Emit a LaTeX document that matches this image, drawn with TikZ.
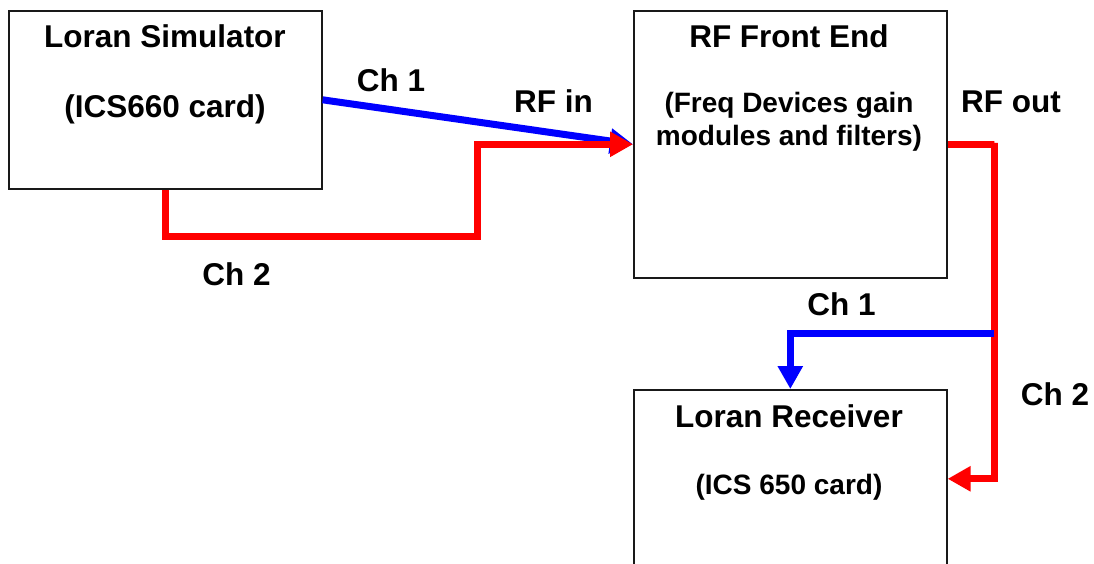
\documentclass[tikz,border=0pt]{standalone}
\usepackage{fontspec}
\setmainfont{Liberation Sans}
\usetikzlibrary{arrows.meta}
\begin{document}
\begin{tikzpicture}[x=1pt,y=-1pt,
  box/.style={draw=black!90,line width=1.6pt,fill=white,inner sep=0pt,anchor=north west},
  big/.style={font=\fontsize{31.5}{38}\selectfont\bfseries,anchor=base,inner sep=0pt},
  small/.style={font=\fontsize{28}{33}\selectfont\bfseries,anchor=base,inner sep=0pt},
  wire/.style={line width=7pt,-{Triangle[length=23pt,width=24pt]}},
  bluewire/.style={wire,color={rgb,255:red,0;green,0;blue,255}},
  redwire/.style={wire,color={rgb,255:red,255;green,0;blue,0}}]
\useasboundingbox (0,0) rectangle (1094,564);
\clip (0,0) rectangle (1094,564);
\fill[white] (0,0) rectangle (1094,564);
% boxes
\node[box,minimum width=313pt,minimum height=178pt] (sim) at (8,10) {};
\node[box,minimum width=313pt,minimum height=267pt] (fe) at (633,10) {};
\node[box,minimum width=313pt,minimum height=178pt] (rx) at (633,389) {};
% texts
\node[big] (t1) at (165,48) {Loran Simulator};
\node[big] (t2) at (165,118) {(ICS660 card)};
\node[big] (t3) at (789,48) {RF Front End};
\node[small] (t4) at (789,113) {(Freq Devices gain};
\node[small] (t5) at (789,146) {modules and filters)};
\node[big] (t6) at (789,427) {Loran Receiver};
\node[small] (t7) at (789,494) {(ICS 650 card)};
\node[big] (l1) at (391,92) {Ch 1};
\node[big] (l2) at (236.5,285) {Ch 2};
\node[big] (l3) at (553.5,113) {RF in};
\node[big] (l4) at (1011,113) {RF out};
\node[big] (l5) at (841.5,315) {Ch 1};
\node[big] (l6) at (1055,405) {Ch 2};
% connector corners
\coordinate (c1) at (477,236);
\coordinate (c2) at (994,143);
\coordinate (c3) at (994,333);
% connectors
\draw[bluewire] (sim.east) -- (fe.west);
\draw[redwire] (sim.south) |- (c1) |- (fe.west);
\draw[redwire] (fe.east) -| (c2) |- (rx.east);
\draw[bluewire] (c3) -| (rx.north);
\end{tikzpicture}
\end{document}
